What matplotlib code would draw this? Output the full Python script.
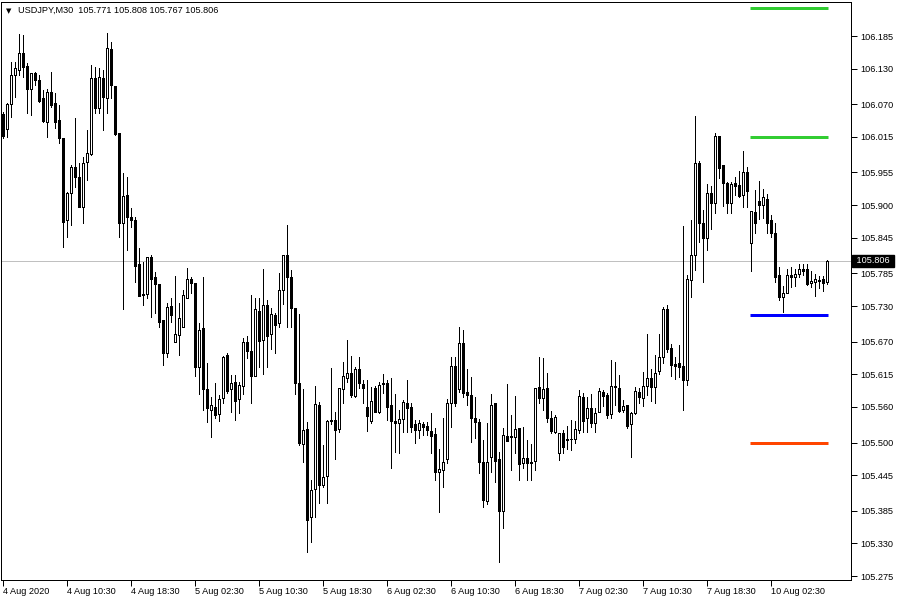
import numpy as np
import matplotlib.pyplot as plt
from matplotlib import transforms

# USDJPY M30 bars, 4 Aug 2020 02:30 .. 10 Aug 2020 (server time)
opens = [
    106.054, 106.028, 106.071, 106.119, 106.128, 106.156, 106.135, 106.096, 106.123, 106.111,
    106.081, 106.040, 106.091, 106.072, 106.044, 106.013, 105.875, 105.920, 105.964, 105.947,
    105.897, 105.973, 105.986, 106.114, 106.064, 106.114, 106.081, 106.163, 106.101, 106.022,
    105.870, 105.917, 105.880, 105.875, 105.801, 105.750, 105.750, 105.813, 105.779, 105.767,
    105.706, 105.651, 105.730, 105.669, 105.681, 105.695, 105.744, 105.776, 105.769, 105.627,
    105.693, 105.590, 105.555, 105.560, 105.548, 105.575, 105.648, 105.590, 105.602, 105.573,
    105.595, 105.669, 105.654, 105.612, 105.722, 105.673, 105.732, 105.683, 105.715, 105.701,
    105.757, 105.816, 105.779, 105.727, 105.600, 105.498, 105.523, 105.375, 105.422, 105.563,
    105.428, 105.444, 105.538, 105.538, 105.523, 105.590, 105.609, 105.617, 105.578, 105.624,
    105.599, 105.560, 105.536, 105.592, 105.551, 105.600, 105.600, 105.563, 105.536, 105.533,
    105.540, 105.567, 105.560, 105.531, 105.521, 105.531, 105.528, 105.519, 105.514, 105.450,
    105.454, 105.472, 105.567, 105.629, 105.590, 105.668, 105.585, 105.580, 105.541, 105.535,
    105.467, 105.401, 105.476, 105.567, 105.472, 105.385, 105.511, 105.511, 105.509, 105.524,
    105.465, 105.474, 105.467, 105.469, 105.594, 105.575, 105.592, 105.541, 105.518, 105.482,
    105.516, 105.506, 105.506, 105.506, 105.521, 105.577, 105.541, 105.558, 105.533, 105.551,
    105.585, 105.580, 105.548, 105.595, 105.592, 105.555, 105.563, 105.531, 105.550, 105.585,
    105.575, 105.595, 105.609, 105.594, 105.621, 105.644, 105.725, 105.659, 105.632, 105.634,
    105.629, 105.605, 105.774, 105.816, 105.971, 105.870, 105.845, 105.920, 105.904, 106.017,
    105.968, 105.937, 105.904, 105.937, 105.934, 105.917, 105.956, 105.836, 105.888, 105.907,
    105.900, 105.910, 105.875, 105.853, 105.782, 105.745, 105.752, 105.782, 105.779, 105.784,
    105.792, 105.792, 105.769, 105.771, 105.772, 105.776, 105.771,
]
highs = [
    106.057, 106.072, 106.141, 106.141, 106.188, 106.187, 106.140, 106.123, 106.124, 106.119,
    106.094, 106.096, 106.124, 106.089, 106.069, 106.013, 105.922, 105.968, 106.047, 105.971,
    105.981, 106.027, 106.136, 106.133, 106.131, 106.128, 106.190, 106.175, 106.101, 106.022,
    105.954, 105.947, 105.895, 105.880, 105.828, 105.804, 105.813, 105.816, 105.787, 105.767,
    105.706, 105.735, 105.744, 105.781, 105.735, 105.757, 105.794, 105.779, 105.769, 105.701,
    105.779, 105.634, 105.577, 105.600, 105.580, 105.646, 105.651, 105.614, 105.614, 105.602,
    105.676, 105.680, 105.749, 105.744, 105.744, 105.792, 105.740, 105.727, 105.718, 105.786,
    105.816, 105.867, 105.791, 105.727, 105.717, 105.590, 105.535, 105.437, 105.595, 105.568,
    105.496, 105.538, 105.626, 105.551, 105.592, 105.636, 105.673, 105.646, 105.627, 105.644,
    105.605, 105.605, 105.594, 105.595, 105.602, 105.616, 105.605, 105.609, 105.582, 105.555,
    105.572, 105.605, 105.567, 105.538, 105.538, 105.535, 105.535, 105.550, 105.524, 105.489,
    105.541, 105.573, 105.644, 105.644, 105.695, 105.690, 105.624, 105.610, 105.577, 105.540,
    105.504, 105.533, 105.582, 105.567, 105.484, 105.524, 105.599, 105.546, 105.578, 105.524,
    105.526, 105.504, 105.498, 105.592, 105.644, 105.642, 105.617, 105.553, 105.546, 105.516,
    105.521, 105.528, 105.538, 105.536, 105.589, 105.583, 105.577, 105.582, 105.558, 105.592,
    105.589, 105.583, 105.639, 105.636, 105.614, 105.572, 105.563, 105.551, 105.594, 105.592,
    105.619, 105.683, 105.624, 105.648, 105.683, 105.728, 105.732, 105.666, 105.644, 105.664,
    105.865, 105.782, 105.875, 106.050, 105.974, 105.892, 105.936, 105.932, 106.022, 106.017,
    105.968, 105.939, 105.939, 105.947, 105.957, 105.991, 105.964, 105.890, 105.926, 105.941,
    105.927, 105.919, 105.883, 105.870, 105.796, 105.764, 105.792, 105.796, 105.792, 105.801,
    105.801, 105.801, 105.789, 105.784, 105.781, 105.781, 105.808,
]
lows = [
    106.013, 106.015, 106.049, 106.082, 106.119, 106.116, 106.055, 106.052, 106.103, 106.074,
    106.040, 106.015, 106.065, 106.030, 106.005, 105.830, 105.846, 105.867, 105.931, 105.897,
    105.870, 105.942, 105.985, 106.055, 106.055, 106.027, 106.055, 106.081, 106.018, 105.846,
    105.725, 105.824, 105.863, 105.771, 105.747, 105.732, 105.744, 105.712, 105.718, 105.695,
    105.631, 105.644, 105.703, 105.669, 105.648, 105.695, 105.744, 105.752, 105.612, 105.582,
    105.555, 105.535, 105.509, 105.541, 105.536, 105.567, 105.583, 105.551, 105.538, 105.550,
    105.582, 105.642, 105.567, 105.612, 105.627, 105.616, 105.627, 105.658, 105.651, 105.695,
    105.733, 105.695, 105.695, 105.582, 105.496, 105.467, 105.316, 105.332, 105.375, 105.398,
    105.425, 105.398, 105.531, 105.472, 105.518, 105.567, 105.602, 105.577, 105.577, 105.592,
    105.567, 105.519, 105.533, 105.551, 105.550, 105.583, 105.538, 105.457, 105.484, 105.482,
    105.518, 105.518, 105.518, 105.499, 105.508, 105.513, 105.513, 105.482, 105.437, 105.383,
    105.425, 105.465, 105.526, 105.562, 105.585, 105.577, 105.563, 105.501, 105.508, 105.449,
    105.391, 105.396, 105.450, 105.433, 105.299, 105.356, 105.503, 105.454, 105.482, 105.437,
    105.457, 105.437, 105.437, 105.454, 105.567, 105.555, 105.535, 105.516, 105.516, 105.471,
    105.482, 105.489, 105.487, 105.499, 105.516, 105.518, 105.518, 105.526, 105.518, 105.551,
    105.562, 105.541, 105.541, 105.563, 105.551, 105.551, 105.524, 105.476, 105.548, 105.567,
    105.562, 105.580, 105.570, 105.567, 105.616, 105.634, 105.653, 105.612, 105.607, 105.610,
    105.555, 105.597, 105.745, 105.791, 105.838, 105.771, 105.824, 105.860, 105.887, 105.946,
    105.899, 105.887, 105.887, 105.917, 105.914, 105.897, 105.897, 105.789, 105.853, 105.877,
    105.878, 105.853, 105.846, 105.771, 105.740, 105.720, 105.752, 105.762, 105.764, 105.779,
    105.782, 105.766, 105.762, 105.747, 105.760, 105.755, 105.767,
]
closes = [
    106.017, 106.071, 106.119, 106.131, 106.156, 106.133, 106.096, 106.123, 106.111, 106.076,
    106.042, 106.091, 106.069, 106.040, 106.013, 105.872, 105.920, 105.964, 105.947, 105.897,
    105.971, 105.988, 106.114, 106.064, 106.116, 106.082, 106.165, 106.103, 106.020, 105.870,
    105.915, 105.880, 105.875, 105.798, 105.747, 105.749, 105.813, 105.776, 105.767, 105.703,
    105.651, 105.728, 105.715, 105.683, 105.710, 105.749, 105.776, 105.769, 105.627, 105.690,
    105.590, 105.558, 105.563, 105.546, 105.573, 105.644, 105.587, 105.600, 105.570, 105.597,
    105.669, 105.654, 105.612, 105.725, 105.671, 105.732, 105.680, 105.717, 105.698, 105.757,
    105.816, 105.779, 105.727, 105.600, 105.499, 105.521, 105.369, 105.420, 105.565, 105.428,
    105.442, 105.536, 105.536, 105.521, 105.592, 105.612, 105.617, 105.580, 105.624, 105.600,
    105.592, 105.545, 105.570, 105.551, 105.597, 105.599, 105.560, 105.536, 105.533, 105.540,
    105.568, 105.558, 105.526, 105.521, 105.533, 105.526, 105.521, 105.511, 105.450, 105.455,
    105.467, 105.567, 105.629, 105.567, 105.668, 105.583, 105.580, 105.541, 105.535, 105.467,
    105.403, 105.467, 105.563, 105.469, 105.385, 105.513, 105.503, 105.509, 105.523, 105.464,
    105.474, 105.465, 105.465, 105.592, 105.575, 105.590, 105.541, 105.519, 105.543, 105.516,
    105.492, 105.505, 105.506, 105.523, 105.578, 105.536, 105.558, 105.533, 105.550, 105.587,
    105.578, 105.546, 105.595, 105.594, 105.553, 105.562, 105.528, 105.550, 105.587, 105.577,
    105.595, 105.609, 105.594, 105.617, 105.644, 105.725, 105.658, 105.631, 105.629, 105.627,
    105.605, 105.776, 105.816, 105.971, 105.870, 105.845, 105.920, 105.904, 106.017, 105.963,
    105.937, 105.904, 105.936, 105.932, 105.915, 105.956, 105.924, 105.890, 105.870, 105.900,
    105.914, 105.870, 105.853, 105.779, 105.745, 105.752, 105.782, 105.779, 105.784, 105.792,
    105.789, 105.767, 105.772, 105.776, 105.773, 105.769, 105.806,
]

time_labels = ['4 Aug 2020', '4 Aug 10:30', '4 Aug 18:30', '5 Aug 02:30', '5 Aug 10:30',
               '5 Aug 18:30', '6 Aug 02:30', '6 Aug 10:30', '6 Aug 18:30', '7 Aug 02:30',
               '7 Aug 10:30', '7 Aug 18:30', '10 Aug 02:30']
label_step = 16

price_ticks = [106.185, 106.130, 106.070, 106.015, 105.955, 105.900, 105.845, 105.785, 105.730,
               105.670, 105.615, 105.560, 105.500, 105.445, 105.385, 105.330, 105.275]

levels = [106.232, 106.015, 105.715, 105.499]
level_colors = ['#32cd32', '#32cd32', '#0000ff', '#ff4500']
level_start, level_end = 186.75, 206.25

bid = 105.806
header = 'USDJPY,M30  105.771 105.808 105.767 105.806'

plt.rcParams['font.family'] = ['Liberation Sans', 'DejaVu Sans']

fig = plt.figure(figsize=(9, 6), dpi=100)
ax = fig.add_axes([1 / 900, 20 / 600, 850 / 900, 578 / 600])

o = np.array(opens)
c = np.array(closes)
idx = np.arange(len(o))
up = c >= o
body_lo = np.minimum(o, c)
body_h = np.maximum(np.abs(c - o), 0.0003)

px = 0.72  # one pixel in points at 100 dpi

ax.axhline(bid, color='#c0c0c0', linewidth=px, zorder=1)
ax.vlines(idx, lows, highs, color='black', linewidth=px, antialiased=False, zorder=2)
ax.bar(idx, body_h, bottom=body_lo, width=0.5,
       color=np.where(up, 'white', 'black'), edgecolor='black', linewidth=px,
       antialiased=False, zorder=3)

ax.hlines(levels, level_start, level_end, colors=level_colors, linewidth=3 * px, zorder=4)

ax.set_xlim(-0.5, 212)
ax.set_ylim(105.2683, 106.2423)

ax.yaxis.tick_right()
ax.set_yticks(price_ticks)
ax.set_yticklabels(['%.3f' % p for p in price_ticks])
ax.tick_params(axis='y', direction='out', length=4, width=px, pad=3, labelsize=6.6, colors='black')

ax.set_xticks(np.arange(len(time_labels)) * label_step)
ax.set_xticklabels(time_labels)
ax.tick_params(axis='x', direction='out', length=4, width=px, pad=1, labelsize=6.6)
for lbl in ax.get_xticklabels():
    lbl.set_horizontalalignment('left')

for s in ax.spines.values():
    s.set_linewidth(px)

# current bid box on the price scale
trans = transforms.blended_transform_factory(ax.transAxes, ax.transData)
ax.text(1.003, bid, ' 105.806 ', transform=trans, ha='left', va='center', fontsize=6.6,
        color='white', zorder=6,
        bbox=dict(boxstyle='square,pad=0.2', facecolor='black', edgecolor='black'))

ax.text(0.006, 0.985, '\u25bc', transform=ax.transAxes, ha='left', va='center',
        fontsize=5, family='DejaVu Sans')
ax.text(0.02, 0.985, header, transform=ax.transAxes, ha='left', va='center', fontsize=6.6)

fig.savefig('out.png', dpi=100)
